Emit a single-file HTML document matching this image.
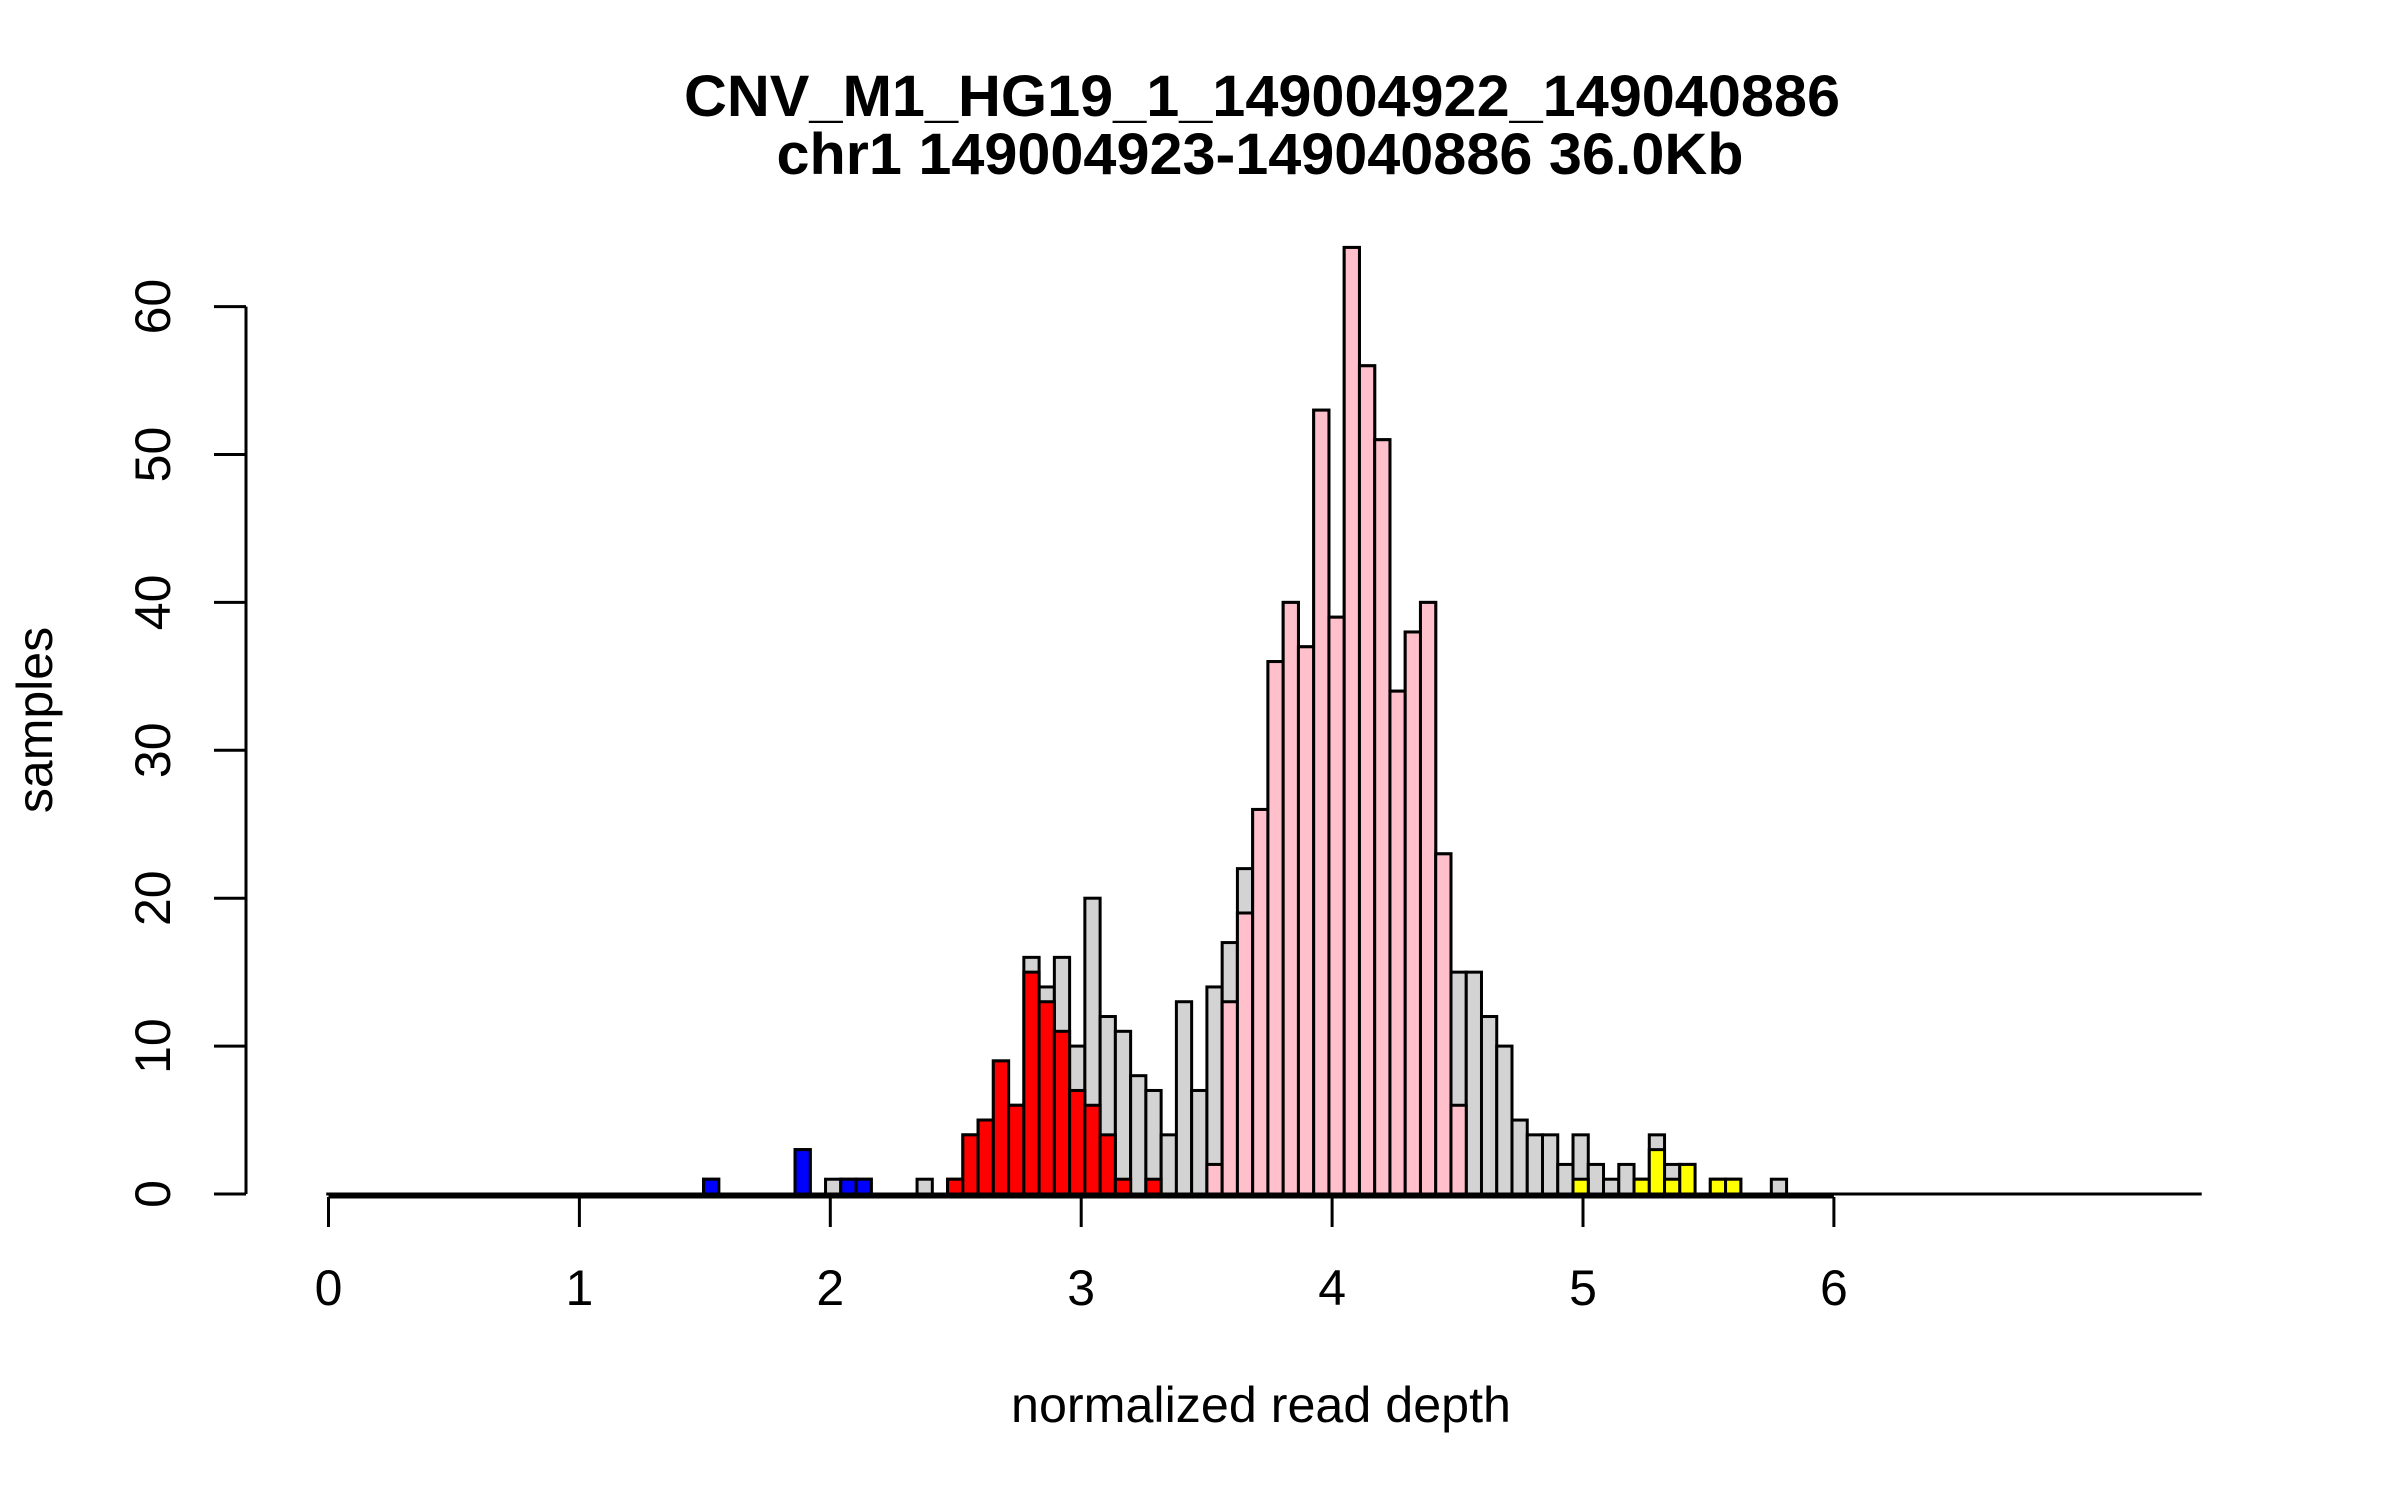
<!DOCTYPE html>
<html><head><meta charset="utf-8"><style>
html,body{margin:0;padding:0;background:#fff;}
svg{display:block;font-family:"Liberation Sans",sans-serif;}
</style></head><body>
<svg id="chart" width="2400" height="1500" viewBox="0 0 2400 1500" xmlns="http://www.w3.org/2000/svg">
<rect width="2400" height="1500" fill="#fff"/>
<text x="1262" y="116" text-anchor="middle" font-weight="bold" font-size="58" textLength="1156" lengthAdjust="spacingAndGlyphs">CNV_M1_HG19_1_149004922_149040886</text>
<text x="1260" y="174" text-anchor="middle" font-weight="bold" font-size="58" textLength="967" lengthAdjust="spacingAndGlyphs">chr1 149004923-149040886 36.0Kb</text>
<text x="1261" y="1422" text-anchor="middle" font-size="50" textLength="500" lengthAdjust="spacingAndGlyphs">normalized read depth</text>
<text transform="translate(52,720) rotate(-90)" text-anchor="middle" font-size="50">samples</text>
<g id="bars"></g>
<g id="axes"></g>
</svg>
<script>
const binStart = 1.4946;
const binWidth = 0.0608;
const totals = [1,0,0,0,0,0,3,0,1,1,1,0,0,0,1,0,1,4,5,9,6,16,14,16,10,20,12,11,8,7,4,13,7,14,17,22,26,36,40,37,53,39,64,56,51,34,38,40,23,15,15,12,10,5,4,4,2,4,2,1,2,1,4,2,2,0,1,1,0,0,1];
const blueBins = [0,6,9,10];
const blueCounts = [1,3,1,1];
const redStart = 16;
const redCounts = [1,4,5,9,6,15,13,11,7,6,4,1,0,1];
const pinkStart = 33;
const pinkCounts = [2,13,19,26,36,40,37,53,39,64,56,51,34,38,40,23,6];
const yellowBins = [57,61,62,63,64,66,67];
const yellowCounts = [1,1,3,1,2,1,1];
const xTicks = [0,1,2,3,4,5,6];
const yTicks = [0,10,20,30,40,50,60];

const NS = "http://www.w3.org/2000/svg";
function xs(v){ return 328.5 + v*250.9; }
function ys(v){ return 1194 - v*14.79; }
const bars = document.getElementById('bars');
const axes = document.getElementById('axes');
function mk(tag, attrs, parent){
  const e = document.createElementNS(NS, tag);
  for (const k in attrs) e.setAttribute(k, attrs[k]);
  parent.appendChild(e);
  return e;
}
let bl = mk('line', {x1: xs(-0.009), x2: xs(7.466), y1: ys(0), y2: ys(0), stroke:'#000', 'stroke-width':3}, bars);


function bar(i, c, fill, name){
  if (c <= 0) return;
  const x0 = xs(binStart + i*binWidth), x1 = xs(binStart + (i+1)*binWidth);
  const r = mk('rect', {x: x0, y: ys(c), width: x1-x0, height: ys(0)-ys(c), fill: fill, stroke:'#000', 'stroke-width':3}, bars);
  
  
}
totals.forEach((c,i)=>bar(i,c,'#d3d3d3','bar-total'));
blueBins.forEach((b,k)=>bar(b,blueCounts[k],'#0000ff','bar-blue'));
redCounts.forEach((c,k)=>bar(redStart+k,c,'#ff0000','bar-red'));
pinkCounts.forEach((c,k)=>bar(pinkStart+k,c,'#ffc0cb','bar-pink'));
yellowBins.forEach((b,k)=>bar(b,yellowCounts[k],'#ffff00','bar-yellow'));

let ya = mk('line', {x1:246, x2:246, y1: ys(yTicks[yTicks.length-1]), y2: ys(yTicks[0]), stroke:'#000','stroke-width':3}, axes);


yTicks.forEach(t=>{
  const l = mk('line', {x1:214, x2:246, y1: ys(t), y2: ys(t), stroke:'#000','stroke-width':3}, axes);
  
  
  const tx = mk('text', {transform:`translate(170,${ys(t)}) rotate(-90)`, 'text-anchor':'middle','font-size':50}, axes);
  tx.textContent = t;
  
  
});
let xa = mk('line', {x1: xs(xTicks[0]), x2: xs(xTicks[xTicks.length-1]), y1:1197, y2:1197, stroke:'#000','stroke-width':3}, axes);


xTicks.forEach(t=>{
  const l = mk('line', {x1: xs(t), x2: xs(t), y1:1197, y2:1227, stroke:'#000','stroke-width':3}, axes);
  
  
  const tx = mk('text', {x: xs(t), y:1305, 'text-anchor':'middle','font-size':50}, axes);
  tx.textContent = t;
  
  
});
</script>
</body></html>
